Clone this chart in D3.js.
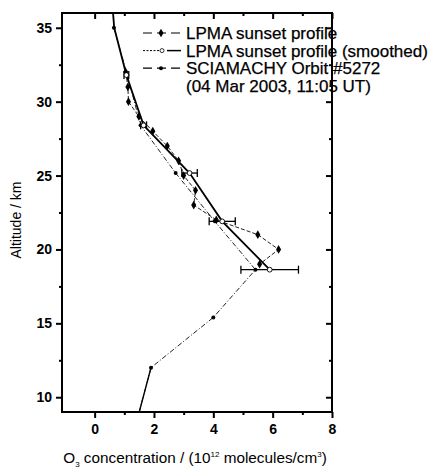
<!DOCTYPE html>
<html><head><meta charset="utf-8">
<script src="https://cdn.jsdelivr.net/npm/d3@7/dist/d3.min.js"></script>
<style>
html,body{margin:0;padding:0;background:#fff;}
svg{display:block;font-family:"Liberation Sans",Arial,sans-serif;}
</style></head>
<body><svg id="c" width="431" height="471"></svg>
<script>
// LPMA sunset profile (1 km steps)
const lpmaAlt = [32, 31, 30, 29, 28, 27, 26, 25, 24, 23, 22, 21, 20, 19];
const lpmaVal = [1.05, 1.12, 1.14, 1.49, 1.96, 2.45, 2.83, 3.0, 3.4, 3.34, 4.1, 5.5, 6.2, 5.56];
// LPMA smoothed profile (on SCIAMACHY grid) with errors
const smAlt = [37, 35, 31.8, 28.4, 25.17, 21.9, 18.63];
const smVal = [0.58, 0.66, 1.07, 1.65, 3.2, 4.3, 5.9];
const smErr = [null, null, 0.08, 0.1, 0.26, 0.44, 0.97];
// SCIAMACHY orbit 5272
const sciAlt = [35, 31.8, 28.4, 25.17, 21.9, 18.63, 15.4, 12, 8.6];
const sciVal = [0.65, 1.1, 1.55, 2.73, 4.05, 5.42, 4.0, 1.9, 1.45];
const xTicks = [0, 2, 4, 6, 8];
const xMinor = [1, 3, 5, 7];
const yTicks = [10, 15, 20, 25, 30, 35];
const yMinor = [12.5, 17.5, 22.5, 27.5, 32.5];
const legendLabels = ["LPMA sunset profile", "LPMA sunset profile (smoothed)", "SCIAMACHY Orbit #5272", "(04 Mar 2003, 11:05 UT)"];

const svg = d3.select("#c");
const L = 62, R = 332, T = 13, B = 412;
const x = d3.scaleLinear().domain([-1.1, 8]).range([L, R]);
const y = d3.scaleLinear().domain([9, 36]).range([B, T]);

svg.append("clipPath").attr("id", "clip").append("rect")
  .attr("x", L).attr("y", T).attr("width", R - L).attr("height", B - T);

const g = svg.append("g").attr("clip-path", "url(#clip)");
const line = d3.line().x(d => x(d[0])).y(d => y(d[1]));

const lpma = lpmaVal.map((v, i) => [v, lpmaAlt[i]]);
const sm = smVal.map((v, i) => [v, smAlt[i], smErr[i]]);
const sci = sciVal.map((v, i) => [v, sciAlt[i]]);

// SCIAMACHY line (thin dash-dot, solid at lowest segment)
g.append("path").datum(sci).attr("d", line).attr("fill", "none")
  .attr("stroke", "#222").attr("stroke-width", 1).attr("stroke-dasharray", "5,2,1,2");
g.append("path").datum(sci.slice(-2)).attr("d", line).attr("fill", "none")
  .attr("stroke", "#000").attr("stroke-width", 1.4);
// LPMA line (thin dashed)
g.append("path").datum(lpma).attr("d", line).attr("fill", "none")
  .attr("stroke", "#222").attr("stroke-width", 1).attr("stroke-dasharray", "4,2");
// Smoothed line (thick solid)
g.append("path").datum(sm).attr("d", line).attr("fill", "none")
  .attr("stroke", "#000").attr("stroke-width", 1.8);

// error bars
const eb = g.selectAll(".eb").data(sm.filter(d => d[2] != null)).enter().append("g");
eb.append("line").attr("x1", d => x(d[0] - d[2])).attr("x2", d => x(d[0] + d[2]))
  .attr("y1", d => y(d[1])).attr("y2", d => y(d[1])).attr("stroke", "#000").attr("stroke-width", 1.3);
eb.append("line").attr("x1", d => x(d[0] - d[2])).attr("x2", d => x(d[0] - d[2]))
  .attr("y1", d => y(d[1]) - 4).attr("y2", d => y(d[1]) + 4).attr("stroke", "#000").attr("stroke-width", 1.3);
eb.append("line").attr("x1", d => x(d[0] + d[2])).attr("x2", d => x(d[0] + d[2]))
  .attr("y1", d => y(d[1]) - 4).attr("y2", d => y(d[1]) + 4).attr("stroke", "#000").attr("stroke-width", 1.3);

const diamond = d3.symbol().type(d3.symbolDiamond).size(22);
g.selectAll(".lp").data(lpma).enter().append("path").attr("d", diamond)
  .attr("transform", d => `translate(${x(d[0])},${y(d[1])})`).attr("fill", "#000");
g.selectAll(".sc").data(sci).enter().append("circle")
  .attr("cx", d => x(d[0])).attr("cy", d => y(d[1])).attr("r", 2).attr("fill", "#000");
g.selectAll(".sm").data(sm.filter(d => d[2] != null)).enter().append("circle")
  .attr("cx", d => x(d[0])).attr("cy", d => y(d[1])).attr("r", 2.4)
  .attr("fill", "#fff").attr("stroke", "#000").attr("stroke-width", 0.9);

// axes
function style(sel) {
  sel.select(".domain").remove();
  sel.selectAll("line").attr("stroke", "#000").attr("stroke-width", 2);
  sel.selectAll("text").attr("font-size", 14).attr("font-weight", "bold").attr("fill", "#000");
}
svg.append("g").attr("transform", `translate(0,${B})`)
  .call(d3.axisBottom(x).tickValues(xTicks).tickSize(6).tickPadding(6).tickFormat(d3.format("d"))).call(style);
svg.append("g").attr("transform", `translate(0,${B})`)
  .call(d3.axisBottom(x).tickValues(xMinor).tickSize(3).tickFormat("")).call(style);
svg.append("g").attr("transform", `translate(0,${T})`)
  .call(d3.axisTop(x).tickValues(xTicks).tickSize(-6).tickFormat("")).call(style);
svg.append("g").attr("transform", `translate(0,${T})`)
  .call(d3.axisTop(x).tickValues(xMinor).tickSize(-3).tickFormat("")).call(style);
svg.append("g").attr("transform", `translate(${L},0)`)
  .call(d3.axisLeft(y).tickValues(yTicks).tickSize(6).tickPadding(4).tickFormat(d3.format("d"))).call(style);
svg.append("g").attr("transform", `translate(${L},0)`)
  .call(d3.axisLeft(y).tickValues(yMinor).tickSize(3).tickFormat("")).call(style);
svg.append("g").attr("transform", `translate(${R},0)`)
  .call(d3.axisRight(y).tickValues(yTicks).tickSize(-6).tickFormat("")).call(style);
svg.append("g").attr("transform", `translate(${R},0)`)
  .call(d3.axisRight(y).tickValues(yMinor).tickSize(-3).tickFormat("")).call(style);

svg.append("rect").attr("x", L).attr("y", T).attr("width", R - L).attr("height", B - T)
  .attr("fill", "none").attr("stroke", "#000").attr("stroke-width", 2);

// legend
const lx = 186, ly0 = 33, lsp = 17.6;
const lg = svg.append("g");
legendLabels.forEach((t, i) => {
  lg.append("text").attr("x", lx).attr("y", ly0 + i * lsp).attr("dy", "0.36em")
    .attr("font-size", 17).attr("fill", "#000").attr("stroke", "#000").attr("stroke-width", 0.25)
    .text(t);
});
const ys = [ly0, ly0 + lsp, ly0 + 2 * lsp];
lg.append("line").attr("x1", 143).attr("x2", 181).attr("y1", ys[0]).attr("y2", ys[0])
  .attr("stroke", "#000").attr("stroke-width", 1.2).attr("stroke-dasharray", "9,5");
lg.append("path").attr("d", diamond).attr("transform", `translate(161,${ys[0]})`).attr("fill", "#000");
lg.append("line").attr("x1", 143).attr("x2", 164).attr("y1", ys[1]).attr("y2", ys[1])
  .attr("stroke", "#000").attr("stroke-width", 1).attr("stroke-dasharray", "2,1.5");
lg.append("line").attr("x1", 167).attr("x2", 181).attr("y1", ys[1]).attr("y2", ys[1])
  .attr("stroke", "#000").attr("stroke-width", 1.5);
lg.append("circle").attr("cx", 162).attr("cy", ys[1]).attr("r", 2).attr("fill", "#fff").attr("stroke", "#000").attr("stroke-width", 0.8);
lg.append("line").attr("x1", 143).attr("x2", 181).attr("y1", ys[2]).attr("y2", ys[2])
  .attr("stroke", "#000").attr("stroke-width", 1.2).attr("stroke-dasharray", "9,5");
lg.append("circle").attr("cx", 161).attr("cy", ys[2]).attr("r", 2).attr("fill", "#000");

// axis titles
const xt = svg.append("text").attr("x", 195).attr("y", 463).attr("text-anchor", "middle")
  .attr("font-size", 15.3).attr("fill", "#000");
xt.append("tspan").text("O");
xt.append("tspan").attr("font-size", 8).attr("dy", 4).text("3");
xt.append("tspan").attr("dy", -4).text(" concentration / (10");
xt.append("tspan").attr("font-size", 8).attr("dy", -6).text("12");
xt.append("tspan").attr("dy", 6).text(" molecules/cm");
xt.append("tspan").attr("font-size", 8).attr("dy", -6).text("3");
xt.append("tspan").attr("dy", 6).text(")");

svg.append("text").attr("transform", "translate(21,220) rotate(-90)").attr("text-anchor", "middle")
  .attr("font-size", 14).attr("fill", "#000").text("Altitude / km");
</script></body></html>
